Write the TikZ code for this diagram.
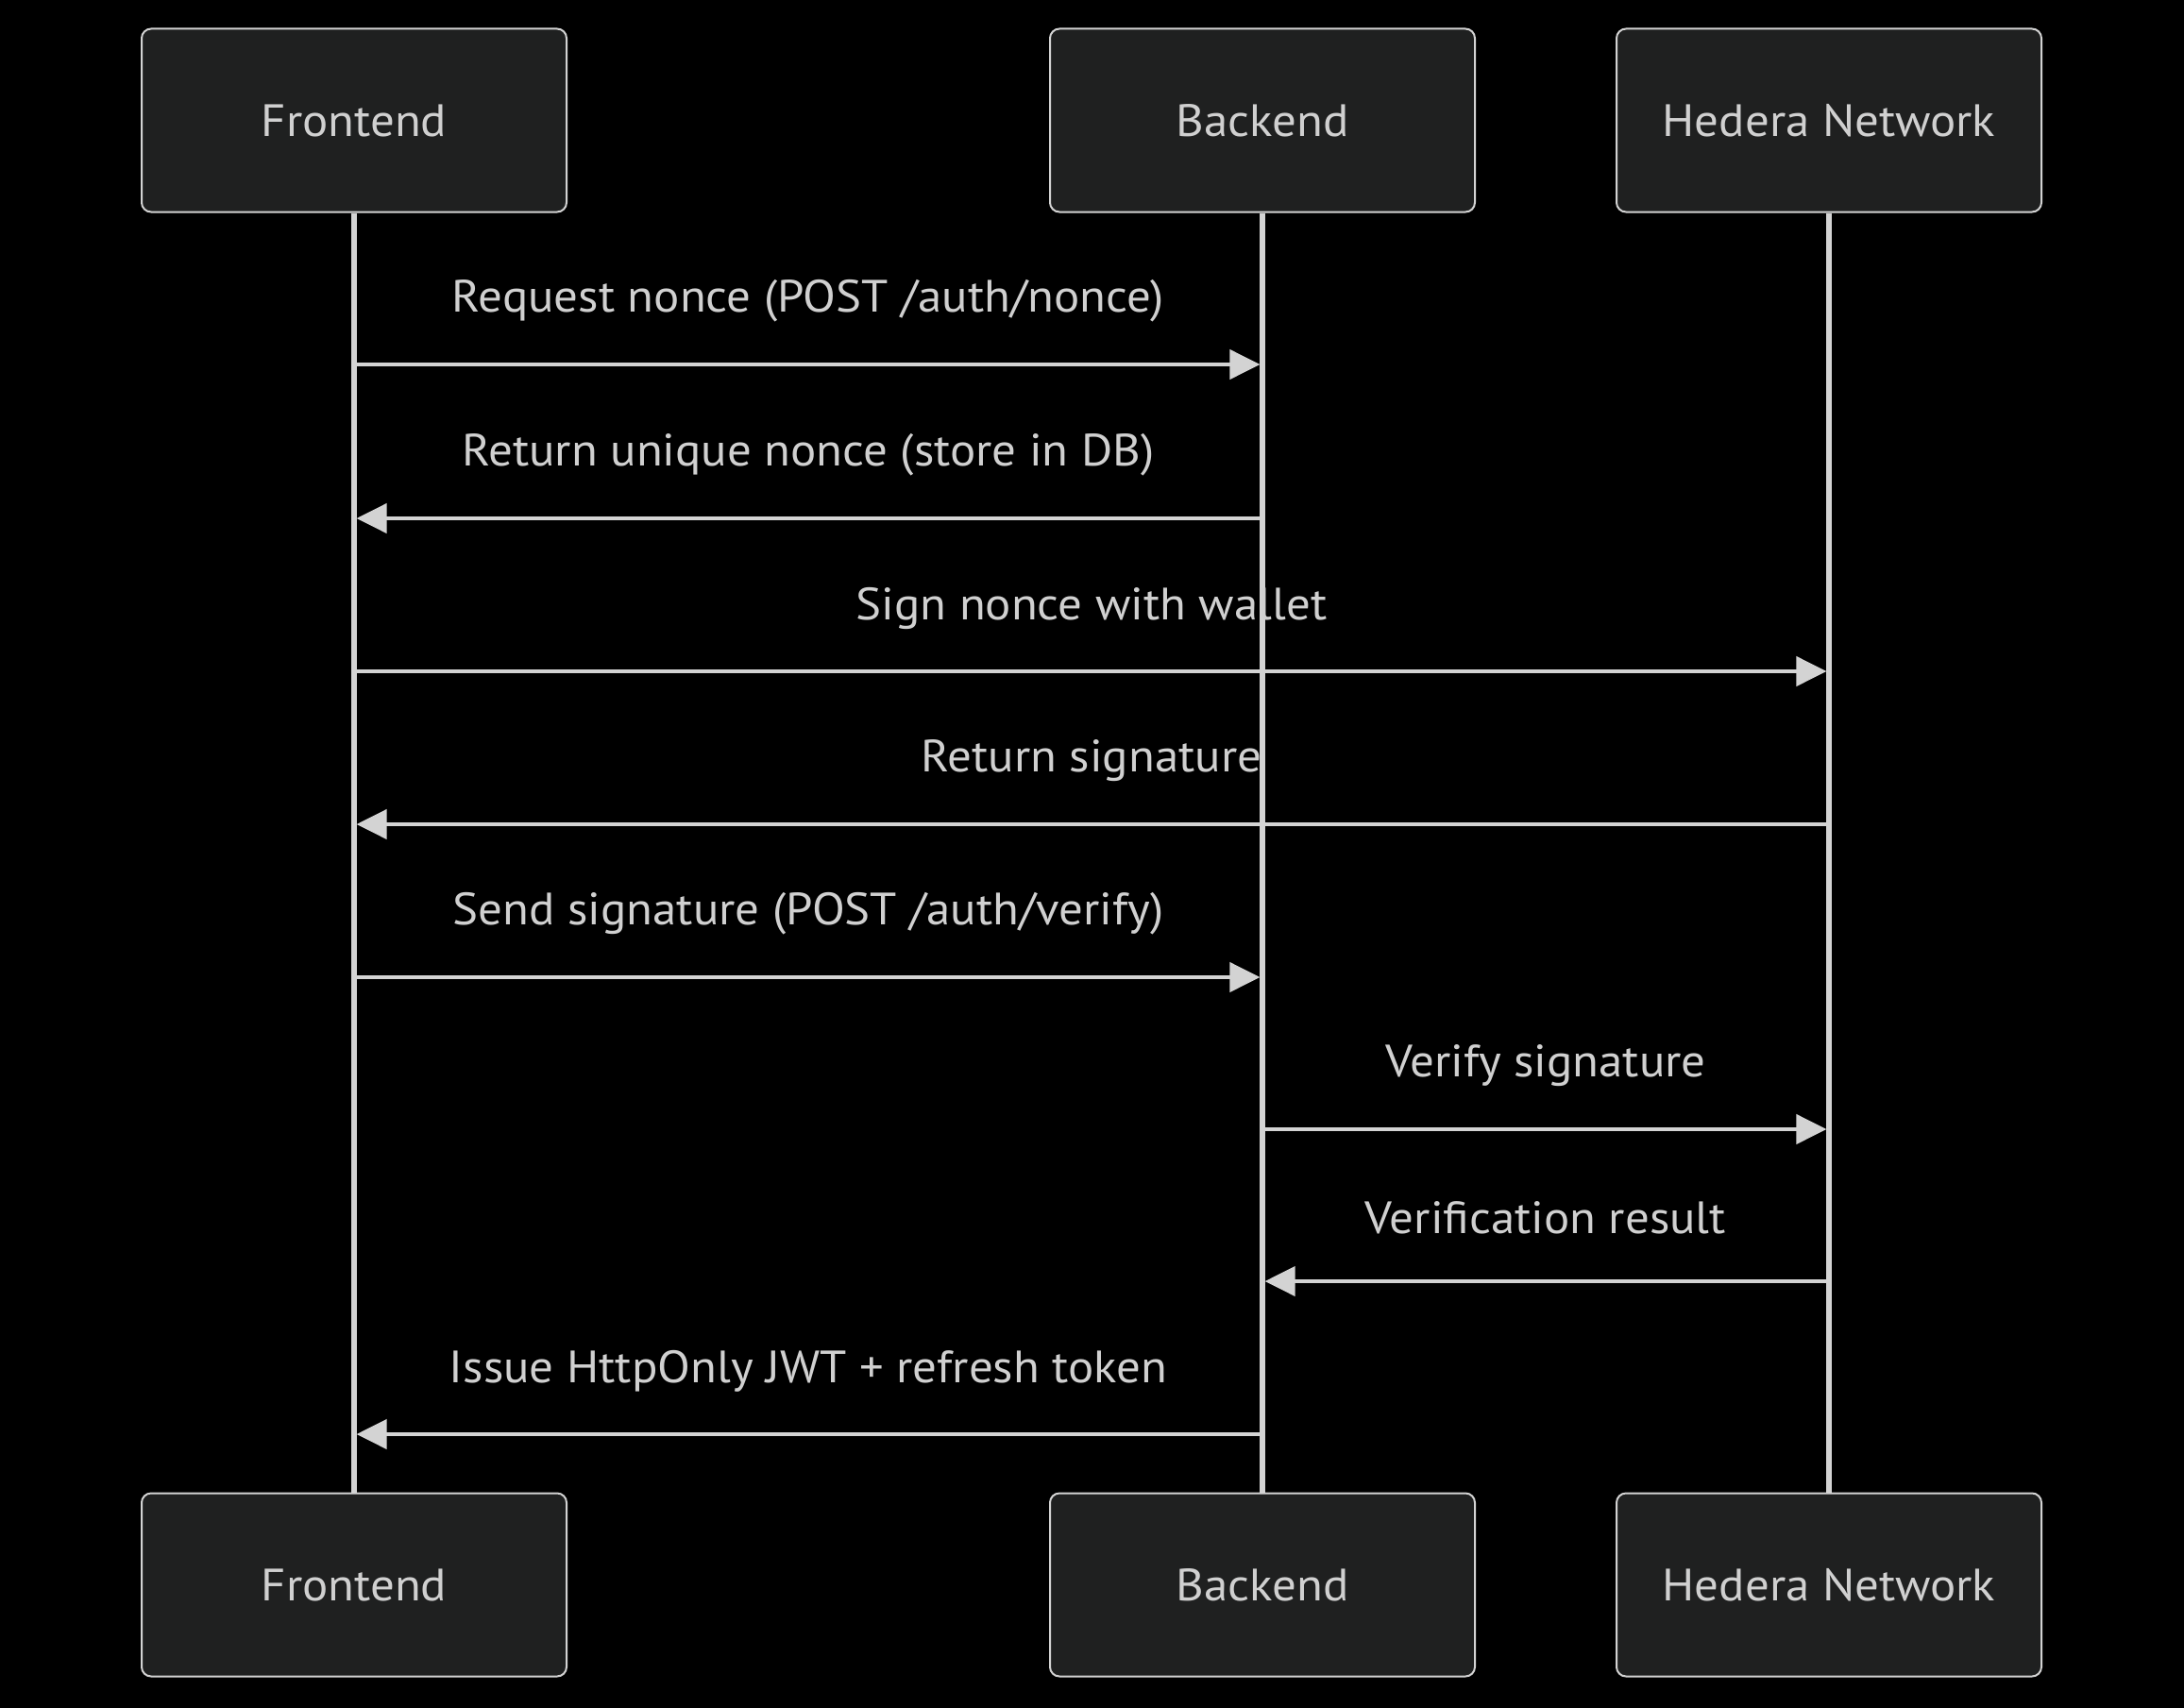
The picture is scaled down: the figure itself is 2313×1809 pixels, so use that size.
\documentclass[tikz,border=0pt]{standalone}
\usepackage{fontspec}
\setmainfont{PT Sans}[FakeStretch=1.06]
\usetikzlibrary{arrows.meta, positioning}
\definecolor{actorfill}{HTML}{1F2020}
\definecolor{linegrey}{HTML}{D3D3D3}
\definecolor{textgrey}{HTML}{D0D0D0}

\begin{document}
\begin{tikzpicture}[
    x=0.5pt, y=-0.5pt,
    every node/.append style = {font=\fontsize{24}{28}\selectfont, text=textgrey},
    actor/.style = {draw=linegrey, fill=actorfill, rounded corners=5pt,
      line width=1pt, minimum width=225pt, minimum height=97pt, inner sep=0pt},
    lifeline/.style = {draw=linegrey, line width=2.6pt},
    msg/.style = {draw=linegrey, line width=2.1pt, shorten >=1.3pt,
      -{Triangle[length=16pt, width=15.5pt]}},
    msglabel/.style = {midway, yshift=33.5pt}
  ]
  % background
  \fill[black] (0,0) rectangle (2313,1809);

  % actors, top and bottom
  \node[actor] (fetop) at (375,127.5) {Frontend};
  \node[actor] (betop) at (1337,127.5) {Backend};
  \node[actor] (hntop) at (1937,127.5) {Hedera Network};
  \node[actor] (febot) at (375,1678.5) {Frontend};
  \node[actor] (bebot) at (1337,1678.5) {Backend};
  \node[actor] (hnbot) at (1937,1678.5) {Hedera Network};

  % lifelines
  \draw[lifeline] (fetop) -- (febot);
  \draw[lifeline] (betop) -- (bebot);
  \draw[lifeline] (hntop) -- (hnbot);

  % points on the lifelines, one per message
  \foreach \n/\x in {fe/375, be/1337, hn/1937} {
    \foreach \i/\y in {1/386, 2/549, 3/711, 4/873, 5/1035, 6/1196, 7/1357, 8/1519} {
      \coordinate (\n\i) at (\x,\y);
    }
  }

  % messages
  \draw[msg] (fe1) -- (be1) node[msglabel] {Request nonce (POST /auth/nonce)};
  \draw[msg] (be2) -- (fe2) node[msglabel] {Return unique nonce (store in DB)};
  \draw[msg] (fe3) -- (hn3) node[msglabel] {Sign nonce with wallet};
  \draw[msg] (hn4) -- (fe4) node[msglabel] {Return signature};
  \draw[msg] (fe5) -- (be5) node[msglabel] {Send signature (POST /auth/verify)};
  \draw[msg] (be6) -- (hn6) node[msglabel] {Verify signature};
  \draw[msg] (hn7) -- (be7) node[msglabel] {Verification result};
  \draw[msg] (be8) -- (fe8) node[msglabel] {Issue HttpOnly JWT + refresh token};
\end{tikzpicture}
\end{document}
